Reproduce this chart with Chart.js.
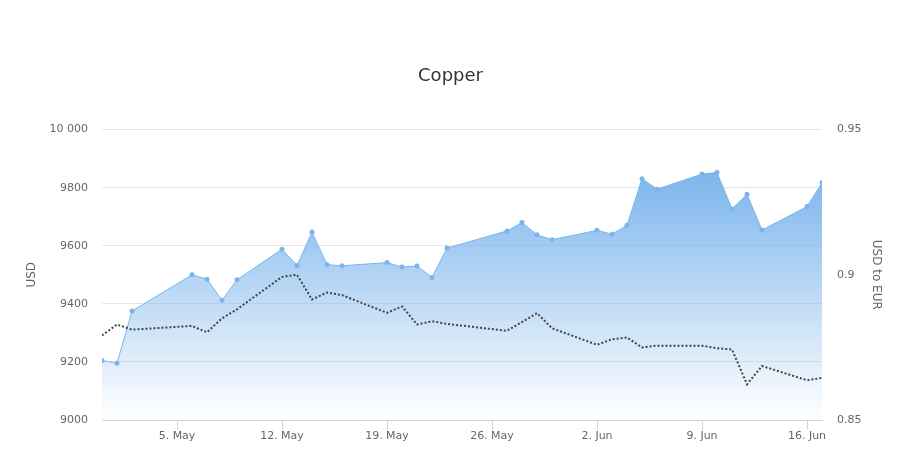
<!DOCTYPE html>
<html>
<head>
<meta charset="utf-8">
<title>Copper</title>
<script src="https://cdn.jsdelivr.net/npm/chart.js@4.4.1/dist/chart.umd.min.js"></script>
<style>
  html, body { margin: 0; padding: 0; background: #fff; }
  #wrap { width: 901px; height: 456px; }
</style>
</head>
<body>
<div id="wrap"><canvas id="chart" width="901" height="456"></canvas></div>
<script>
// Trading days (LME, no UK bank holidays)
const dates = [
  '2025-04-30', '2025-05-01', '2025-05-02',
  '2025-05-06', '2025-05-07', '2025-05-08', '2025-05-09',
  '2025-05-12', '2025-05-13', '2025-05-14', '2025-05-15', '2025-05-16',
  '2025-05-19', '2025-05-20', '2025-05-21', '2025-05-22', '2025-05-23',
  '2025-05-27', '2025-05-28', '2025-05-29', '2025-05-30',
  '2025-06-02', '2025-06-03', '2025-06-04', '2025-06-05', '2025-06-06',
  '2025-06-09', '2025-06-10', '2025-06-11', '2025-06-12', '2025-06-13',
  '2025-06-16', '2025-06-17'
];

const copperUsd = [
  9205, 9195, 9375,
  9500, 9485, 9412, 9483,
  9588, 9532, 9647, 9535, 9531,
  9542, 9527, 9530, 9491, 9592,
  9651, 9680, 9638, 9621,
  9653, 9640, 9671, 9831, 9795,
  9847, 9852, 9727, 9777, 9654,
  9735, 9817
];

const usdToEur = [
  0.8791, 0.8829, 0.8811,
  0.8824, 0.8802, 0.8850, 0.8881,
  0.8993, 0.9000, 0.8915, 0.8939, 0.8930,
  0.8869, 0.8891, 0.8829, 0.8840, 0.8831,
  0.8807, 0.8837, 0.8868, 0.8816,
  0.8759, 0.8778, 0.8784, 0.8750, 0.8756,
  0.8756, 0.8747, 0.8743, 0.8623, 0.8686,
  0.8637, 0.8645
];

const xStart = '2025-04-30';
const xEnd = '2025-06-17';
const xTickDates = ['2025-05-05', '2025-05-12', '2025-05-19', '2025-05-26', '2025-06-02', '2025-06-09', '2025-06-16'];
const xTickLabels = ['5. May', '12. May', '19. May', '26. May', '2. Jun', '9. Jun', '16. Jun'];

const usdTicks = [9000, 9200, 9400, 9600, 9800, 10000];
const usdTickLabels = ['9000', '9200', '9400', '9600', '9800', '10 000'];
const eurTicks = [0.85, 0.9, 0.95];
const eurTickLabels = ['0.85', '0.9', '0.95'];

const DAY = 24 * 3600 * 1000;
const dayOf = s => (Date.parse(s + 'T00:00:00Z') - Date.parse(xStart + 'T00:00:00Z')) / DAY;

const copperPoints = dates.map((d, i) => ({ x: dayOf(d), y: copperUsd[i] }));
const eurPoints = dates.map((d, i) => ({ x: dayOf(d), y: usdToEur[i] }));

const FONT = "'DejaVu Sans', sans-serif";
const labelColor = '#666666';

function areaFill(context) {
  const chart = context.chart;
  const { ctx, chartArea, scales } = chart;
  if (!chartArea) return 'rgba(124, 181, 236, 0.5)';
  const top = scales.y.getPixelForValue(Math.max(...copperUsd));
  const g = ctx.createLinearGradient(0, top, 0, chartArea.bottom);
  g.addColorStop(0, 'rgba(124, 181, 236, 1)');
  g.addColorStop(1, 'rgba(124, 181, 236, 0)');
  return g;
}

new Chart(document.getElementById('chart'), {
  type: 'line',
  data: {
    datasets: [
      {
        label: 'USD to EUR',
        data: eurPoints,
        yAxisID: 'y1',
        borderColor: '#434348',
        borderWidth: 2,
        borderDash: [2, 2],
        pointRadius: 0,
        tension: 0,
        fill: false,
        order: 0
      },
      {
        label: 'Copper',
        data: copperPoints,
        yAxisID: 'y',
        borderColor: '#7cb5ec',
        borderWidth: 1,
        backgroundColor: areaFill,
        pointBackgroundColor: '#7cb5ec',
        pointBorderColor: '#7cb5ec',
        pointRadius: 2.5,
        pointBorderWidth: 0,
        tension: 0,
        fill: 'start',
        order: 1
      }
    ]
  },
  options: {
    responsive: false,
    animation: false,
    layout: { padding: 0 },
    plugins: {
      legend: { display: false },
      tooltip: { enabled: false },
      title: {
        display: true,
        text: 'Copper',
        color: '#333333',
        font: { family: FONT, size: 18, weight: 'normal' },
        padding: { top: 66, bottom: 42 }
      }
    },
    scales: {
      x: {
        type: 'linear',
        min: dayOf(xStart),
        max: dayOf(xEnd),
        afterBuildTicks: scale => {
          scale.ticks = xTickDates.map(d => ({ value: dayOf(d) }));
        },
        afterFit: scale => { scale.height = 36; },
        ticks: {
          color: labelColor,
          font: { family: FONT, size: 11 },
          padding: 0,
          maxRotation: 0,
          autoSkip: false,
          callback: v => xTickLabels[xTickDates.findIndex(d => dayOf(d) === v)]
        },
        grid: {
          drawOnChartArea: false,
          drawTicks: true,
          tickLength: 10,
          color: '#ccd6eb'
        },
        border: { display: true, color: '#ccd6eb' }
      },
      y: {
        position: 'left',
        min: 9000,
        max: 10000,
        afterBuildTicks: scale => {
          scale.ticks = usdTicks.map(v => ({ value: v }));
        },
        afterFit: scale => { scale.width = 102; },
        ticks: {
          color: labelColor,
          font: { family: FONT, size: 11 },
          padding: 14,
          callback: v => usdTickLabels[usdTicks.indexOf(v)]
        },
        grid: { color: '#e6e6e6', drawTicks: false },
        border: { display: false },
        title: {
          display: true,
          text: 'USD',
          color: labelColor,
          font: { family: FONT, size: 12 },
          padding: { top: 25, bottom: 0 }
        }
      },
      y1: {
        position: 'right',
        min: 0.85,
        max: 0.95,
        afterBuildTicks: scale => {
          scale.ticks = eurTicks.map(v => ({ value: v }));
        },
        afterFit: scale => { scale.width = 79; },
        ticks: {
          color: labelColor,
          font: { family: FONT, size: 11 },
          padding: 15,
          callback: v => eurTickLabels[eurTicks.findIndex(t => Math.abs(t - v) < 1e-9)]
        },
        grid: { display: false, drawTicks: false },
        border: { display: false },
        title: {
          display: true,
          text: 'USD to EUR',
          color: labelColor,
          font: { family: FONT, size: 12 },
          padding: { top: 18, bottom: 0 }
        }
      }
    }
  }
});
</script>
</body>
</html>
